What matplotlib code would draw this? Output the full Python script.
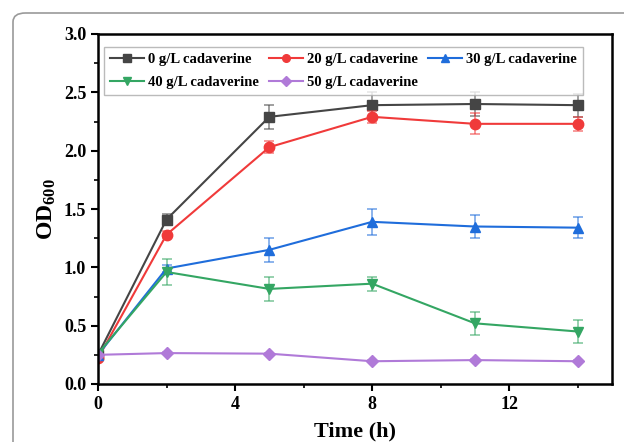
import matplotlib
matplotlib.use("Agg")
import matplotlib.pyplot as plt
from matplotlib.patches import FancyBboxPatch
from matplotlib.lines import Line2D
from matplotlib.ticker import MultipleLocator, FormatStrFormatter

time_h = [0, 2, 5, 8, 11, 14]
labels = ["0 g/L cadaverine", "20 g/L cadaverine", "30 g/L cadaverine",
          "40 g/L cadaverine", "50 g/L cadaverine"]
od_0 = [0.25, 1.41, 2.29, 2.39, 2.40, 2.39]
od_20 = [0.22, 1.28, 2.03, 2.29, 2.23, 2.23]
od_30 = [0.25, 0.99, 1.15, 1.39, 1.35, 1.34]
od_40 = [0.26, 0.96, 0.815, 0.86, 0.52, 0.45]
od_50 = [0.25, 0.265, 0.26, 0.195, 0.205, 0.195]
err_0 = [0.01, 0.05, 0.10, 0.11, 0.10, 0.10]
err_20 = [0.01, 0.03, 0.05, 0.05, 0.09, 0.06]
err_30 = [0.01, 0.03, 0.10, 0.11, 0.10, 0.09]
err_40 = [0.01, 0.11, 0.10, 0.06, 0.10, 0.10]
err_50 = [0.01, 0.01, 0.01, 0.01, 0.01, 0.01]

series = [od_0, od_20, od_30, od_40, od_50]
errors = [err_0, err_20, err_30, err_40, err_50]
colors = ["#454545", "#f03a3a", "#1f6ddb", "#34a663", "#b07ad8"]
markers = ["s", "o", "^", "v", "D"]

plt.rcParams['font.family'] = ['Liberation Serif', 'DejaVu Serif']
plt.rcParams['font.weight'] = 'bold'
plt.rcParams['mathtext.fontset'] = 'custom'
plt.rcParams['mathtext.rm'] = 'Liberation Serif:bold'
plt.rcParams['mathtext.bf'] = 'Liberation Serif:bold'
plt.rcParams['mathtext.it'] = 'Liberation Serif:bold'

fig = plt.figure(figsize=(6.24, 4.42), dpi=100)
border = FancyBboxPatch((13 / 624, -0.1), 1.2, 1 - 13 / 442 + 0.1,
                        boxstyle="round,pad=0,rounding_size=0.02",
                        transform=fig.transFigure, fill=False,
                        edgecolor="#9a9a9a", linewidth=1.2)
fig.patches.append(border)

ax = fig.add_axes([98 / 624, 1 - 384 / 442, (612 - 98) / 624, (384 - 34) / 442])
handles = []
for y, e, c, m, lab in zip(series, errors, colors, markers, labels):
    ms = 6.5 if m == "D" else 7.5
    ax.errorbar(time_h, y, yerr=e, fmt='none', ecolor=c, elinewidth=1.2,
                capsize=3.5, capthick=1.2, alpha=0.6)
    ax.plot(time_h, y, color=c, marker=m, markersize=ms, linewidth=1.5)
    handles.append(Line2D([], [], color=c, marker=m, markersize=5.5, linewidth=1.5,
                          label=lab))

ax.set_xlim(0, 15)
ax.set_ylim(0, 3.0)
ax.xaxis.set_major_locator(MultipleLocator(4))
ax.xaxis.set_minor_locator(MultipleLocator(2))
ax.yaxis.set_major_locator(MultipleLocator(0.5))
ax.yaxis.set_minor_locator(MultipleLocator(0.25))
ax.yaxis.set_major_formatter(FormatStrFormatter('%.1f'))
ax.tick_params(which='major', direction='out', length=5, width=1.5, labelsize=13)
ax.tick_params(which='minor', direction='out', length=3, width=1.2)
for lbl in ax.get_xticklabels() + ax.get_yticklabels():
    lbl.set_fontweight('bold')
for s in ax.spines.values():
    s.set_linewidth(1.8)

ax.set_xlabel("Time (h)", fontsize=16, fontweight='bold', labelpad=6)
ax.set_ylabel(r"OD$_{600}$", fontsize=17, fontweight='bold', labelpad=4)

order = [0, 3, 1, 4, 2]
leg = ax.legend([handles[i] for i in order], [labels[i] for i in order],
                loc='upper left', bbox_to_anchor=(0.012, 0.963), ncol=3,
                prop={'family': 'Liberation Serif', 'weight': 'bold', 'size': 10.5},
                frameon=True, fancybox=False, edgecolor="#aaaaaa",
                handlelength=2.3, handletextpad=0.3, columnspacing=0.7,
                borderpad=0.4, labelspacing=0.65, borderaxespad=0.0)
leg.get_frame().set_linewidth(1.0)

fig.savefig("out.png", dpi=100)
